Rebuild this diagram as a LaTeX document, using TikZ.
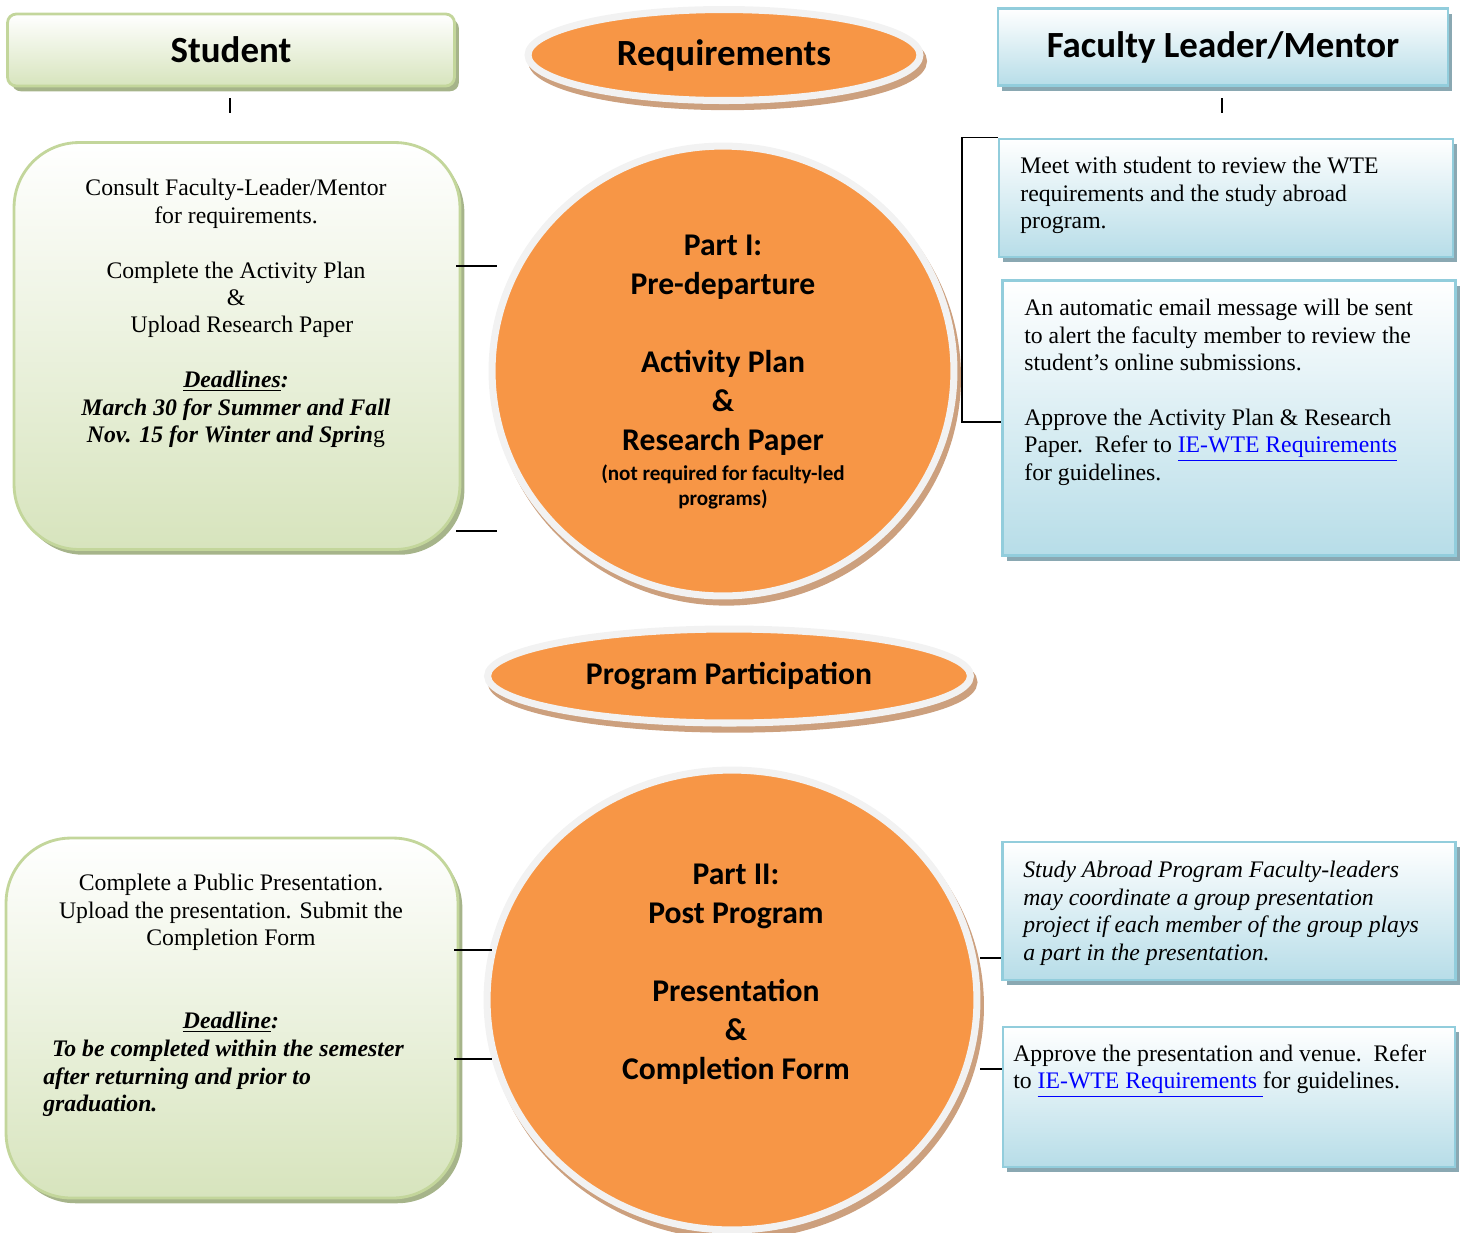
\documentclass[tikz,border=0pt]{standalone}
\usepackage{fontspec}
\setmainfont{Liberation Serif}[
    ItalicFont={Liberation Serif Italic},
    BoldFont={Liberation Serif Bold},
    BoldItalicFont={Liberation Serif Bold Italic}]
\newfontfamily\calibri{Carlito}
\usetikzlibrary{shapes.geometric,shadows}
\definecolor{wteorange}{RGB}{247,150,70}
\definecolor{wtering}{RGB}{242,242,242}
\definecolor{wtebrown}{RGB}{204,160,126}
\definecolor{wtegreen}{RGB}{195,214,155}
\definecolor{wtegreenfill}{RGB}{215,228,189}
\definecolor{wtegreenshade}{RGB}{166,180,138}
\definecolor{wteblue}{RGB}{146,205,220}
\definecolor{wtebluefill}{RGB}{183,221,232}
\definecolor{wteblueshade}{RGB}{138,168,178}
\definecolor{wtelink}{RGB}{0,0,255}
\newcommand{\reqlink}[1]{\textcolor{wtelink}{\underline{#1}}}
\newcommand{\bfit}[1]{\textbf{\textit{#1}}}

\begin{document}
\begin{tikzpicture}[x=0.02cm, y=-0.02cm,
    studentbox/.style={draw=wtegreen, line width=1.6pt, top color=white, bottom color=wtegreenfill,
        general shadow={fill=wtegreenshade, shadow xshift=2.5pt, shadow yshift=-3pt}},
    mentorbox/.style={draw=wteblue, line width=1.6pt, top color=white, bottom color=wtebluefill,
        general shadow={fill=wteblueshade, shadow xshift=2.5pt, shadow yshift=-3pt}},
    stagering/.style={ellipse, fill=wteorange, draw=wtering, line width=4pt,
        general shadow={fill=wtebrown, draw=wtebrown, line width=4pt, shadow xshift=2pt, shadow yshift=-3.5pt}},
    headtext/.style={font=\calibri\bfseries\fontsize{21}{25}\selectfont},
    stagetext/.style={font=\calibri\bfseries\fontsize{18}{22.1}\selectfont, align=center, inner sep=0pt},
    bodytext/.style={font=\fontsize{13.5}{15.6}\selectfont, inner sep=0pt},
    link/.style={black, line width=0.8pt, shorten <=-3pt, shorten >=-5pt}
]
    \useasboundingbox (0,0) rectangle (1464,1232);

    % Column heads
    \node[studentbox, rounded corners=5pt, minimum width=8.94cm, minimum height=1.44cm, headtext] (stuHead) at (231,50) {Student};
    \node[mentorbox, minimum width=9cm, minimum height=1.54cm, headtext] (facHead) at (1223,47) {\raisebox{2pt}{Faculty Leader/Mentor}};
    \draw[line width=0.8pt] (230,98) -- (230,113);
    \draw[line width=0.8pt] (1222,98) -- (1222,113);

    % Stage banners
    \node[stagering, minimum width=7.84cm, minimum height=1.82cm, stagetext, font=\calibri\bfseries\fontsize{21}{25}\selectfont] (reqs) at (724,55) {Requirements};
    \node[stagering, minimum width=9.66cm, minimum height=1.88cm, stagetext] (progPart) at (729,676) {Program Participation};

    % Part I: pre-departure
    \node[stagering, minimum width=9.24cm, minimum height=9cm] (partI) at (723,371) {};
    \node[stagetext, anchor=north] (partItxt) at (723,235)
        {Part I:\\Pre-departure\\[22.1pt]Activity Plan\\\&\\Research Paper};
    \node[stagetext, font=\calibri\bfseries\fontsize{12}{14.7}\selectfont, anchor=north] (partInote) at (723,464)
        {(not required for faculty-led\\programs)};

    % Student side, Part I
    \node[studentbox, rounded corners=1.3cm, minimum width=8.92cm, minimum height=8.14cm] (stuA) at (237,346) {};
    \node[bodytext, align=center, anchor=north] (stuAtxt) at (236,179)
        {Consult Faculty-Leader/Mentor\\for requirements.\\[15.6pt]Complete the Activity Plan\\\&\\\ \ Upload Research Paper\\[15.6pt]%
         \underline{\bfit{Deadlines}}\bfit{:}\\\bfit{March 30 for Summer and Fall}\\\bfit{Nov. 15 for Winter and Sprin}g};
    \draw[link] (stuA.east |- 0,266) -- (partI.west |- 0,266);
    \draw[link] (stuA.east |- 0,531) -- (partI.west |- 0,531);

    % Mentor side, Part I
    \node[mentorbox, minimum width=9.08cm, minimum height=2.36cm] (facA) at (1226,198) {};
    \node[bodytext, align=left, anchor=north west] (facAtxt) at (1020,157)
        {Meet with student to review the WTE\\requirements and the study abroad\\program.};
    \node[mentorbox, minimum width=9.06cm, minimum height=5.5cm] (facB) at (1229,418) {};
    \node[bodytext, align=left, anchor=north west] (facBtxt) at (1024,299)
        {An automatic email message will be sent\\to alert the faculty member to review the\\student’s online submissions.\\[15.6pt]%
         Approve the Activity Plan \& Research\\Paper.\ \ Refer to \reqlink{IE-WTE Requirements}\\for guidelines.};
    \draw[line width=0.8pt] (facA.north west) -| (962,422) -- (facB.west |- 0,422);

    % Part II: post program
    \node[stagering, minimum width=9.8cm, minimum height=9.2cm] (partII) at (732,1000) {};
    \node[stagetext, anchor=north] (partIItxt) at (736,864)
        {Part II:\\Post Program\\[22.1pt]Presentation\\\&\\Completion Form};

    % Student side, Part II
    \node[studentbox, rounded corners=1.3cm, minimum width=9.04cm, minimum height=7.2cm] (stuB) at (232,1018) {};
    \node[bodytext, align=center, anchor=north] (stuBtxt) at (231,874)
        {Complete a Public Presentation.\\Upload the presentation. Submit the\\Completion Form};
    \node[bodytext, anchor=north] (stuBdl) at (231,1012) {\underline{\bfit{Deadline}}\bfit{:}};
    \node[bodytext, align=left, anchor=north west] (stuBdue) at (43,1040)
        {\hspace*{5pt}\bfit{To be completed within the semester}\\\bfit{after returning and prior to}\\\bfit{graduation.}};
    \draw[link] (stuB.east |- 0,950) -- (partII.west |- 0,950);
    \draw[link] (stuB.east |- 0,1059) -- (partII.west |- 0,1059);

    % Mentor side, Part II
    \node[mentorbox, minimum width=9.06cm, minimum height=2.76cm] (facC) at (1229,911) {};
    \node[bodytext, align=left, anchor=north west, font=\fontsize{13.5}{15.6}\selectfont\itshape] (facCtxt) at (1023,861)
        {Study Abroad Program Faculty-leaders\\may coordinate a group presentation\\project if each member of the group plays\\a part in the presentation.};
    \node[mentorbox, minimum width=9.04cm, minimum height=2.8cm] (facD) at (1229,1097) {};
    \node[bodytext, align=left, anchor=north west] (facDtxt) at (1013,1044)
        {Approve the presentation and venue.\ \ Refer\\to \reqlink{IE-WTE Requirements\ }for guidelines.};
    \draw[line width=0.8pt] (partII.east |- 0,958) -- (facC.west |- 0,958);
    \draw[line width=0.8pt] (partII.east |- 0,1069) -- (facD.west |- 0,1069);
\end{tikzpicture}
\end{document}
